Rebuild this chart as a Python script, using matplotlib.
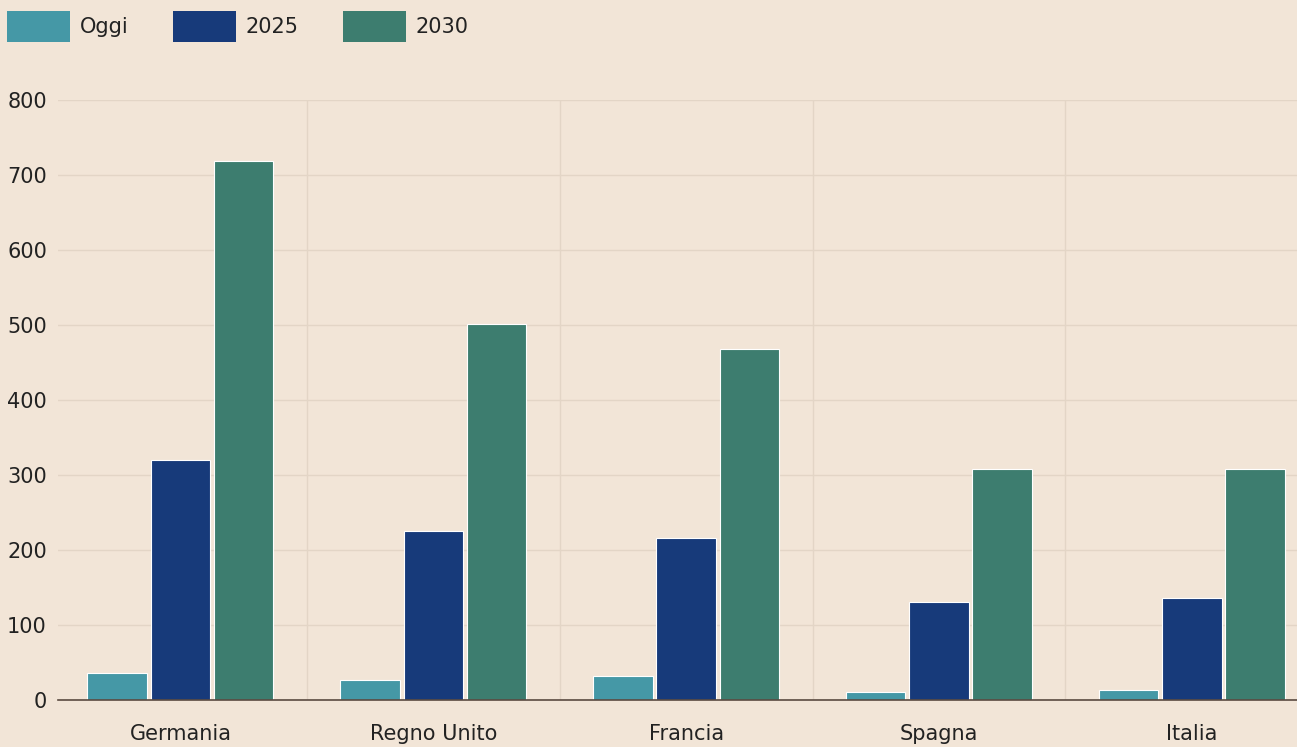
import matplotlib
matplotlib.use("Agg")
import matplotlib.pyplot as plt
import numpy as np
from matplotlib.patches import Patch

categories = ["Germania", "Regno Unito", "Francia", "Spagna", "Italia"]
series_names = ["Oggi", "2025", "2030"]
oggi = [36, 27, 32, 11, 13]
y2025 = [320, 225, 216, 131, 136]
y2030 = [719, 501, 468, 308, 308]
yticks = [0, 100, 200, 300, 400, 500, 600, 700, 800]

colors = ["#4598A6", "#173A7A", "#3D7D6F"]
bg = "#F2E5D7"
plt.rcParams['font.family'] = ['DejaVu Sans']

fig = plt.figure(figsize=(12.97, 7.47), dpi=100, facecolor=bg)
ax = fig.add_axes([58/1297, 1-700/747, 1-58/1297, 600/747])
ax.set_facecolor(bg)

x = np.arange(len(categories))
w = 0.235
off = 0.25
for i, (vals, c) in enumerate(zip([oggi, y2025, y2030], colors)):
    ax.bar(x + (i-1)*off, vals, width=w, color=c, edgecolor="white", linewidth=0.8, zorder=3)

ax.set_xlim(-0.484, 4.416)
ax.set_ylim(0, 800)
ax.set_yticks(yticks)
ax.set_yticklabels([str(v) for v in yticks], fontsize=15, color="#222222")
ax.set_xticks(x)
ax.set_xticklabels(categories, fontsize=15, color="#222222")
ax.tick_params(axis='y', length=0, pad=8)
ax.tick_params(axis='x', length=0, pad=17)

# grid
ax.grid(axis='y', color="#E3D5C6", linewidth=1, zorder=0)
ax.set_xticks(np.arange(0.5, 4.5, 1), minor=True)
ax.grid(axis='x', which='minor', color="#E3D5C6", linewidth=1, zorder=0)
ax.tick_params(axis='x', which='minor', length=0)

for s in ["top", "right", "left"]:
    ax.spines[s].set_visible(False)
ax.spines["bottom"].set_color("#5a4a40")
ax.spines["bottom"].set_linewidth(1.2)
ax.spines["bottom"].set_zorder(4)

handles = [Patch(facecolor=c, edgecolor="none") for c in colors]
fig.legend(handles, series_names, loc="upper left", bbox_to_anchor=(7/1297, 1-11/747),
           ncol=3, frameon=False, fontsize=15, handlelength=3.03, handleheight=1.9,
           handletextpad=0.48, columnspacing=2.1, borderaxespad=0, borderpad=0,
           labelcolor="#222222")

fig.savefig("out.png", dpi=100, facecolor=bg)
